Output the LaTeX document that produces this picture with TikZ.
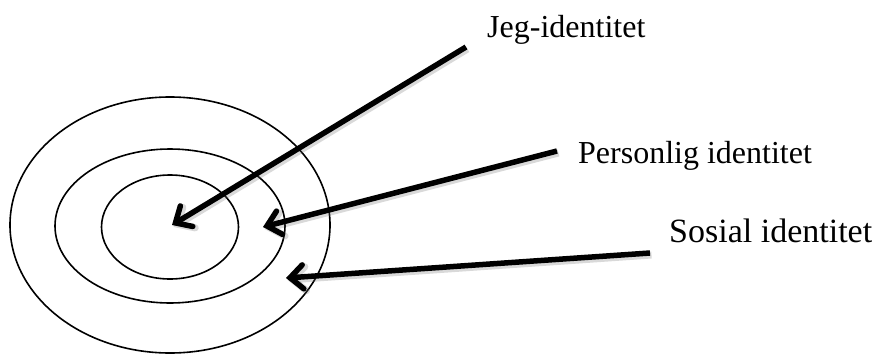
\documentclass[tikz,border=0pt]{standalone}
\usepackage{fontspec}
\setmainfont{Liberation Serif}
\usetikzlibrary{arrows.meta,shapes.geometric}
\begin{document}
\begin{tikzpicture}[x=1pt,y=-1pt,
  ring/.style={draw=black, line width=1.6pt, ellipse, inner sep=0pt},
  lbl/.style={anchor=base west, inner sep=0pt, font=\fontsize{32}{34}\selectfont},
  pointer/.style={line width=5.5pt, -{Straight Barb[length=13pt,width=24pt,line cap=round]},
    preaction={draw=black!60, opacity=0.25, line width=7pt, transform canvas={shift={(1.5pt,-2pt)}}}}]
\useasboundingbox (0,0) rectangle (875,354);
\node[ring, minimum width=320pt, minimum height=256pt] (outer) at (170,225) {};
\node[ring, minimum width=230pt, minimum height=154pt] (middle) at (170,226) {};
\node[ring, minimum width=137pt, minimum height=104pt] (inner) at (170,227) {};
\node[lbl] (jeg) at (487,37) {Jeg-identitet};
\node[lbl] (pers) at (578,163) {Personlig identitet};
\node[lbl, font=\fontsize{34}{36}\selectfont] (sos) at (669,242) {Sosial identitet};
\coordinate (jegS) at (466,47);
\coordinate (persS) at (557,151);
\coordinate (sosS) at (650,253);
\coordinate (jegT) at (172,225);
\coordinate (persT) at (263,227);
\coordinate (sosT) at (286,278);
\draw[pointer] (jegS) -- (jegT);
\draw[pointer] (persS) -- (persT);
\draw[pointer] (sosS) -- (sosT);
\end{tikzpicture}
\end{document}
